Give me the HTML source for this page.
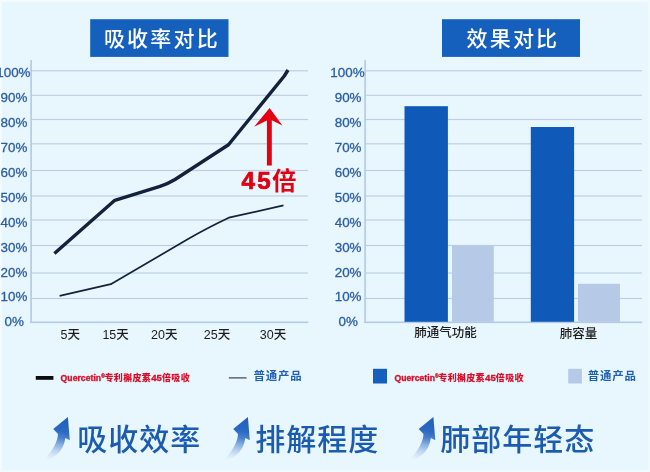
<!DOCTYPE html>
<html lang="zh-CN">
<head>
<meta charset="utf-8">
<title>吸收率对比 效果对比</title>
<style>
html,body{margin:0;padding:0;}
body{width:650px;height:472px;overflow:hidden;background:#e8f6fe;font-family:"Liberation Sans","Noto Sans CJK SC",sans-serif;}
svg{display:block;position:absolute;left:0;top:0;}
text{font-family:"Liberation Sans","Noto Sans CJK SC",sans-serif;}
.yl{font-size:13.4px;fill:#2b5da6;text-anchor:end;stroke:#2b5da6;stroke-width:0.3px;}
.xl{font-size:12.5px;fill:#1c1c1c;text-anchor:middle;font-weight:500;}
.ttl{font-size:21px;fill:#fff;letter-spacing:2.2px;font-weight:500;}
.red{font-size:9.3px;font-weight:700;fill:#d7102b;}
.rc{font-weight:900;font-size:9px;letter-spacing:0.33px;}
.blu{font-size:11.4px;font-weight:700;fill:#1f5fb6;letter-spacing:0.9px;}
.big{font-size:30px;font-weight:500;fill:#1b5cb0;letter-spacing:1px;}
.x45{font-size:24px;font-weight:700;fill:#e00012;}
</style>
</head>
<body>
<svg width="650" height="472" viewBox="0 0 650 472">
<defs>
<linearGradient id="ag" gradientUnits="userSpaceOnUse" x1="62" y1="417" x2="52" y2="461.5">
<stop offset="0" stop-color="#1f60bc" stop-opacity="1"/>
<stop offset="0.3" stop-color="#2b69c2" stop-opacity="1"/>
<stop offset="0.45" stop-color="#3471c7" stop-opacity="0.88"/>
<stop offset="0.6" stop-color="#3674c9" stop-opacity="0.55"/>
<stop offset="0.76" stop-color="#3a78cc" stop-opacity="0.25"/>
<stop offset="0.9" stop-color="#3a78cc" stop-opacity="0.07"/>
<stop offset="1" stop-color="#3a78cc" stop-opacity="0"/>
</linearGradient>
</defs>
<rect x="0" y="0" width="650" height="472" fill="#e8f6fe"/>
<rect x="0" y="0" width="650" height="2" fill="#f4fbff"/>
<rect x="0" y="0" width="2" height="472" fill="#f4fbff"/>
<rect x="0" y="470.5" width="650" height="1.5" fill="#f2faff"/>
<rect x="648.5" y="0" width="1.5" height="472" fill="#f2faff"/>

<g id="left-chart">
<rect x="31" y="70.2" width="277" height="1.2" fill="#bdcfe7"/>
<rect x="31" y="94.7" width="277" height="1.2" fill="#bdcfe7"/>
<rect x="31" y="118.9" width="277" height="1.2" fill="#bdcfe7"/>
<rect x="31" y="143.2" width="277" height="1.2" fill="#bdcfe7"/>
<rect x="31" y="169.9" width="277" height="1.2" fill="#bdcfe7"/>
<rect x="31" y="195.4" width="277" height="1.2" fill="#bdcfe7"/>
<rect x="31" y="219.4" width="277" height="1.2" fill="#bdcfe7"/>
<rect x="31" y="244.9" width="277" height="1.2" fill="#bdcfe7"/>
<rect x="31" y="272.4" width="277" height="1.2" fill="#bdcfe7"/>
<rect x="31" y="297.9" width="277" height="1.2" fill="#bdcfe7"/>
<rect x="30.3" y="60" width="1.6" height="263.1" fill="#b4c9e8"/>
<rect x="30.3" y="321.5" width="278" height="1.6" fill="#b4c9e8"/>
<text class="yl" x="30.5" y="77">100%</text>
<text class="yl" x="27.3" y="102">90%</text>
<text class="yl" x="27.3" y="127">80%</text>
<text class="yl" x="27.3" y="152">70%</text>
<text class="yl" x="27.3" y="177">60%</text>
<text class="yl" x="27.3" y="202">50%</text>
<text class="yl" x="27.3" y="227">40%</text>
<text class="yl" x="27.3" y="252">30%</text>
<text class="yl" x="27.3" y="277">20%</text>
<text class="yl" x="27.3" y="301">10%</text>
<text class="yl" x="23.9" y="326">0%</text>
<text class="xl" x="70.2" y="338.6">5天</text>
<text class="xl" x="115.6" y="338.6">15天</text>
<text class="xl" x="164.2" y="338.6">20天</text>
<text class="xl" x="217" y="338.6">25天</text>
<text class="xl" x="273" y="338.6">30天</text>
<path d="M59.6 295.8 L110.8 284.2 L188.5 238.8 Q205 229 228.8 217.7 L283.5 205.4" fill="none" stroke="#13213d" stroke-width="1.7" stroke-linejoin="round"/>
<path d="M54.4 253.5 L114.8 200.3 L160 186.3 Q167.6 184 175 179.5 L228.5 144.7 L284.3 76 L288 70" fill="none" stroke="#13213d" stroke-width="3.4" stroke-linejoin="round"/>
<path d="M269.6 107.9 L282.4 125.4 L271.8 120.3 L271.8 165.5 L266.9 165.5 L266.9 120.4 L254.1 126.8 Z" fill="#e50012"/>
<text class="x45" y="189.6"><tspan x="241.4 257.2" y="188.6" font-size="24.2" stroke="#e00012" stroke-width="0.7">45</tspan><tspan x="271.9" y="189.6" font-size="24.5">倍</tspan></text>
</g>
<g id="right-chart">
<rect x="365" y="70.2" width="277" height="1.2" fill="#bdcfe7"/>
<rect x="365" y="94.7" width="277" height="1.2" fill="#bdcfe7"/>
<rect x="365" y="118.9" width="277" height="1.2" fill="#bdcfe7"/>
<rect x="365" y="143.2" width="277" height="1.2" fill="#bdcfe7"/>
<rect x="365" y="169.9" width="277" height="1.2" fill="#bdcfe7"/>
<rect x="365" y="195.4" width="277" height="1.2" fill="#bdcfe7"/>
<rect x="365" y="219.4" width="277" height="1.2" fill="#bdcfe7"/>
<rect x="365" y="244.9" width="277" height="1.2" fill="#bdcfe7"/>
<rect x="365" y="272.4" width="277" height="1.2" fill="#bdcfe7"/>
<rect x="365" y="297.9" width="277" height="1.2" fill="#bdcfe7"/>
<rect x="364.3" y="60" width="1.6" height="263.1" fill="#b4c9e8"/>
<rect x="364.3" y="321.5" width="278" height="1.6" fill="#b4c9e8"/>
<text class="yl" x="364.6" y="77">100%</text>
<text class="yl" x="361.5" y="102">90%</text>
<text class="yl" x="361.5" y="127">80%</text>
<text class="yl" x="361.5" y="152">70%</text>
<text class="yl" x="361.5" y="177">60%</text>
<text class="yl" x="361.5" y="202">50%</text>
<text class="yl" x="361.5" y="227">40%</text>
<text class="yl" x="361.5" y="252">30%</text>
<text class="yl" x="361.5" y="277">20%</text>
<text class="yl" x="361.5" y="301">10%</text>
<text class="yl" x="357.9" y="326">0%</text>
<rect x="404.5" y="106.2" width="43.4" height="215.6" fill="#0f59b8"/>
<rect x="452" y="245.5" width="41.8" height="76.3" fill="#b6cae8"/>
<rect x="530.8" y="127" width="43.3" height="194.8" fill="#0f59b8"/>
<rect x="578" y="283.8" width="42" height="38.0" fill="#b6cae8"/>
<text class="xl" x="445.6" y="337.2">肺通气功能</text>
<text class="xl" x="578.6" y="338">肺容量</text>
</g>
<rect x="90.2" y="19.2" width="138.3" height="37.7" fill="#1560bd"/>
<text class="ttl" x="103.9" y="46.3">吸收率对比</text>
<rect x="442" y="19.2" width="138" height="37.7" fill="#1560bd"/>
<text class="ttl" x="466.5" y="46.3">效果对比</text>
<rect x="35.8" y="376" width="17.6" height="3.8" fill="#0b0b10"/>
<text class="red" x="60.6" y="380.9"><tspan font-size="8.6" letter-spacing="0.05" stroke="#d7102b" stroke-width="0.35">Quercetin</tspan><tspan font-size="4.8" x="101.2" y="378.3" stroke="#d7102b" stroke-width="0.25">®</tspan><tspan class="rc" x="104.5" y="380.9">专利槲皮素<tspan font-size="9.6" stroke="#d7102b" stroke-width="0.35" letter-spacing="0.1">45</tspan>倍吸收</tspan></text>
<rect x="228.8" y="377.3" width="17.8" height="1.2" fill="#3b4352"/>
<text class="blu" x="253.4" y="380">普通产品</text>
<rect x="373" y="368.8" width="14" height="14.7" fill="#1560bd"/>
<text class="red" x="394.4" y="380.9"><tspan font-size="8.6" letter-spacing="0.05" stroke="#d7102b" stroke-width="0.35">Quercetin</tspan><tspan font-size="4.8" x="435" y="378.3" stroke="#d7102b" stroke-width="0.25">®</tspan><tspan class="rc" x="438.3" y="380.9">专利槲皮素<tspan font-size="9.6" stroke="#d7102b" stroke-width="0.35" letter-spacing="0.1">45</tspan>倍吸收</tspan></text>
<rect x="568.2" y="368.8" width="13.7" height="14.7" fill="#b6cae8"/>
<text class="blu" x="587.7" y="380">普通产品</text>
<path transform="translate(0 0)" d="M67.9 417.1 L53.2 429.1 L58 433.9 C57.8 441 53 451 42.6 461.3 C53 459.5 63 453 65.4 438.1 L69.8 440.3 Z" fill="url(#ag)"/>
<path transform="translate(180 0)" d="M67.9 417.1 L53.2 429.1 L58 433.9 C57.8 441 53 451 42.6 461.3 C53 459.5 63 453 65.4 438.1 L69.8 440.3 Z" fill="url(#ag)"/>
<path transform="translate(365.5 0)" d="M67.9 417.1 L53.2 429.1 L58 433.9 C57.8 441 53 451 42.6 461.3 C53 459.5 63 453 65.4 438.1 L69.8 440.3 Z" fill="url(#ag)"/>
<text class="big" x="77.2" y="449.5">吸收效率</text>
<text class="big" x="255.3" y="449.5">排解程度</text>
<text class="big" x="440.2" y="449.5">肺部年轻态</text>
</svg>
</body>
</html>
